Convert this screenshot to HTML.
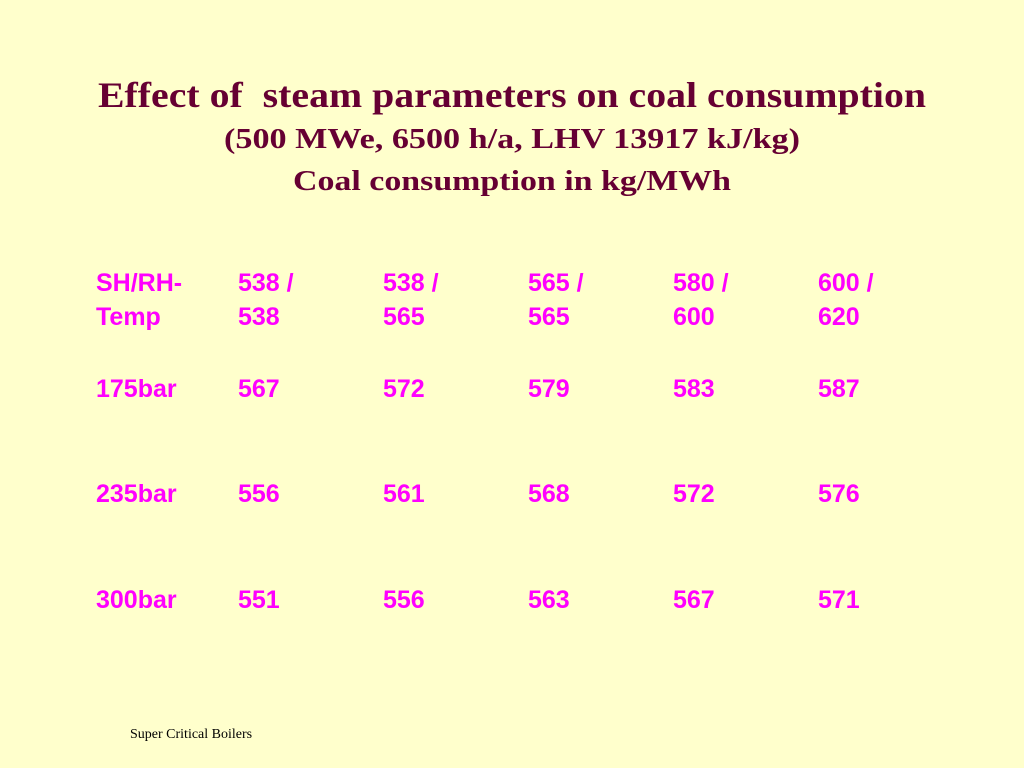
<!DOCTYPE html>
<html><head><meta charset="utf-8"><style>
html,body{margin:0;padding:0;background:#FFFFCC;}
svg{display:block}
</style></head><body>
<svg width="1024" height="768" viewBox="0 0 1024 768">
<rect width="1024" height="768" fill="#FFFFCC"/>
<g font-family="Liberation Serif, serif" font-weight="bold" fill="#660033" text-anchor="middle">
<text x="512" y="107" font-size="36" textLength="828" lengthAdjust="spacingAndGlyphs" xml:space="preserve">Effect of  steam parameters on coal consumption</text>
<text x="512" y="148" font-size="28" textLength="576" lengthAdjust="spacingAndGlyphs">(500 MWe, 6500 h/a, LHV 13917 kJ/kg)</text>
<text x="512" y="190" font-size="28" textLength="438" lengthAdjust="spacingAndGlyphs">Coal consumption in kg/MWh</text>
</g>
<g id="tbl" font-family="Liberation Sans, sans-serif" font-weight="bold" font-size="25" fill="#FF00FF"></g>
<text x="130" y="738" font-family="Liberation Serif, serif" font-size="14" fill="#000">Super Critical Boilers</text>
</svg>
<script>
const headers1 = ["SH/RH-","538 /","538 /","565 /","580 /","600 /"];
const headers2 = ["Temp","538","565","565","600","620"];
const pressures = ["175bar","235bar","300bar"];
const v175 = [567,572,579,583,587];
const v235 = [556,561,568,572,576];
const v300 = [551,556,563,567,571];
const rows = [v175, v235, v300];
const colX = [96,238,383,528,673,818];
const g = document.getElementById('tbl');
function t(x,y,s,name){
  const e=document.createElementNS('http://www.w3.org/2000/svg','text');
  e.setAttribute('x',x);e.setAttribute('y',y);e.textContent=s;
  
  
  g.appendChild(e);
}
headers1.forEach((h,i)=>t(colX[i],291,h,'header-line1'));
headers2.forEach((h,i)=>t(colX[i],325,h,'header-line2'));
const rowY=[397,502,608];
rows.forEach((r,ri)=>{
  t(colX[0],rowY[ri],pressures[ri],'pressure-label');
  r.forEach((v,ci)=>t(colX[ci+1],rowY[ri],String(v),'consumption-value'));
});
</script>
</body></html>
